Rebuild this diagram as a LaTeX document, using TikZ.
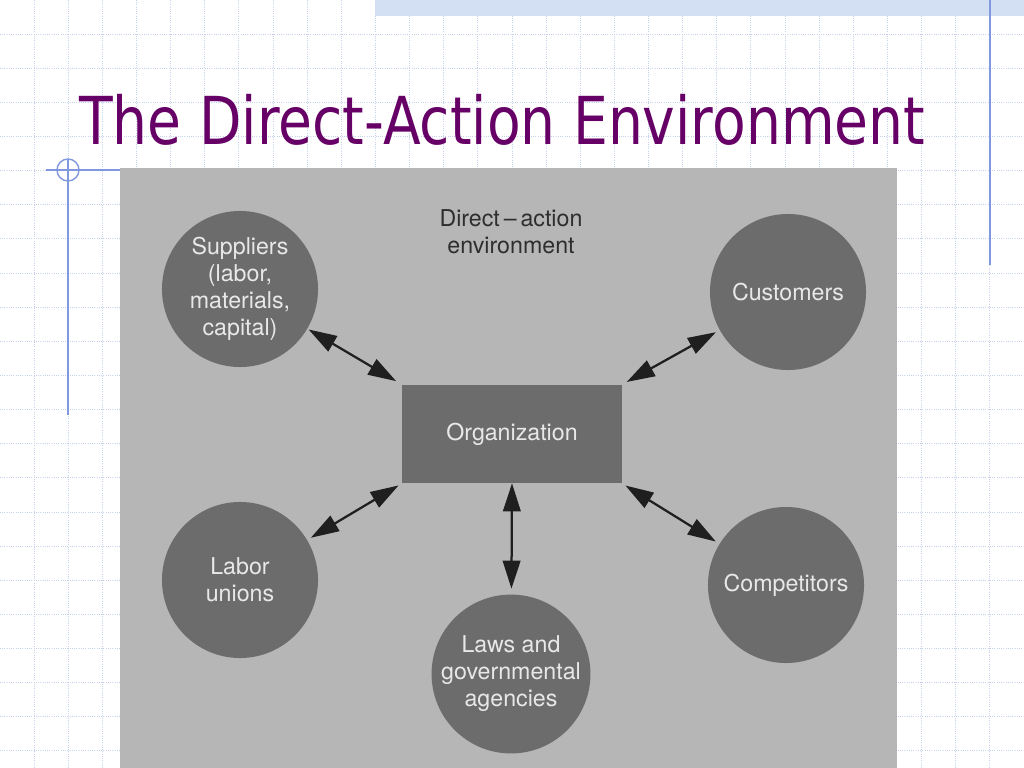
\documentclass[tikz,border=0pt]{standalone}
\usepackage{fontspec}
\usepackage{graphicx}
\setmainfont{TeX Gyre Heros}
\newfontfamily\titlefont{DejaVu Sans}
\usetikzlibrary{arrows.meta}

\definecolor{slidepurple}{HTML}{660066}
\definecolor{gridblue}{HTML}{C6D1EC}
\definecolor{lineblue}{HTML}{7F98DE}
\definecolor{bandblue}{HTML}{D3DFF3}
\definecolor{panelgray}{HTML}{B6B6B6}
\definecolor{blobgray}{HTML}{6C6C6C}
\definecolor{textlight}{HTML}{E8E8E8}

\begin{document}
\begin{tikzpicture}[x=0.025cm,y=-0.025cm,
    blob/.style={circle, fill=blobgray, minimum size=3.9cm, inner sep=0pt,
      text=textlight, align=center, font=\fontsize{16.5}{19.2}\selectfont},
    orgbox/.style={rectangle, fill=blobgray, minimum width=5.475cm,
      minimum height=2.45cm, text=textlight, font=\fontsize{16.5}{19.2}\selectfont},
    link/.style={{Triangle[length=20pt,width=12.5pt]}-{Triangle[length=20pt,width=12.5pt]},
      line width=1.6pt, black!88}]

	\useasboundingbox (0,0) rectangle (1024,768);

	% slide background
	\fill[white] (0,0) rectangle (1024,768);
	\foreach \i in {1,...,29}
		\draw[gridblue, densely dotted, line width=0.6pt] (\i*34.13,0) -- (\i*34.13,768);
	\foreach \i in {1,...,22}
		\draw[gridblue, densely dotted, line width=0.6pt] (0,\i*34.13) -- (1024,\i*34.13);
	\fill[bandblue] (375,0) rectangle (1024,16);

	% blue rules
	\draw[lineblue, line width=1pt] (990,0) -- (990,265);
	\draw[lineblue, line width=1pt] (46,170) -- (120,170);
	\draw[lineblue, line width=1pt] (68,160) -- (68,415);
	\draw[lineblue, line width=1pt] (68,170) circle [radius=11];

	% title
	\node[anchor=base west, inner sep=0pt, text=slidepurple,
		font=\titlefont\fontsize{47}{50}\selectfont] (title) at (79,145) {\scalebox{0.834}[1]{The Direct-Action Environment}};

	% picture panel
	\fill[panelgray] (120,168) rectangle (897,768);

	% circles
	\node[blob] (suppliers) at (240,289) {Suppliers\\(labor,\\materials,\\capital)};
	\node[blob] (customers) at (788,292) {Customers};
	\node[blob] (unions) at (240,580) {Labor\\unions};
	\node[blob] (laws) at (511,674) {Laws and\\governmental\\agencies};
	\node[blob] (competitors) at (786,585) {Competitors};

	% organization
	\node[orgbox] (org) at (512,434) {Organization};
	\node[align=center, text=black!82, font=\fontsize{16.5}{19.2}\selectfont] (env) at (511,232) {Direct\,--\,action\\environment};

	% arrows
	\draw[link, shorten <=1pt, shorten >=5pt] (suppliers) -- (org.north west);
	\draw[link, shorten <=3pt, shorten >=4pt] (customers) -- (org.north east);
	\draw[link, shorten <=3pt, shorten >=3pt] (unions) -- (org.south west);
	\draw[link, shorten <=3pt, shorten >=3pt] (competitors) -- (org.south east);
	\draw[link, shorten >=4pt] (org.south) -- (laws);
\end{tikzpicture}
\end{document}
